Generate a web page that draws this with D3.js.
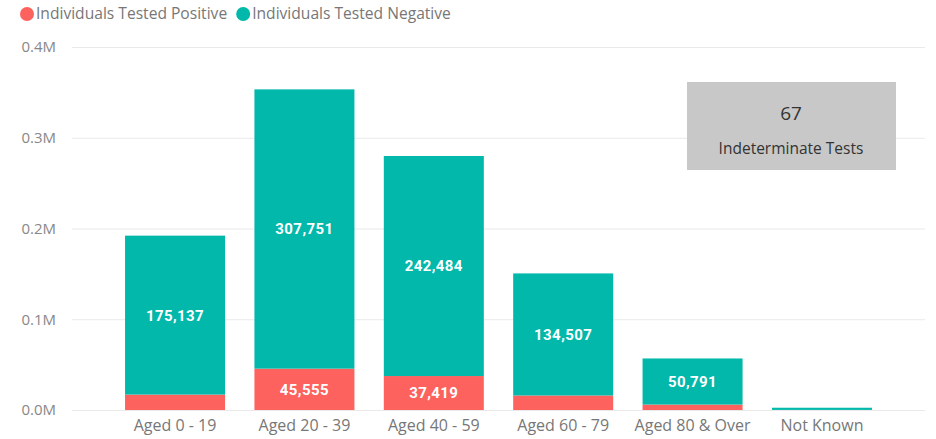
<html lang="en">
  <head>
    <meta charset="utf-8">
    <title>Tests by age group</title>
    <script src="https://d3js.org/d3.v7.min.js"></script>
    <style>
      body { margin: 0; background: #fff; }
    </style>
  </head>
  <body>
    <script type="text/javascript">
      var w = 936;
      var h = 439;

      var categories = ["Aged 0 - 19", "Aged 20 - 39", "Aged 40 - 59", "Aged 60 - 79", "Aged 80 & Over", "Not Known"];
      var positive = [17000, 45555, 37419, 16000, 6000, 100];
      var negative = [175137, 307751, 242484, 134507, 50791, 2400];
      var seriesNames = ["Individuals Tested Positive", "Individuals Tested Negative"];
      var seriesColors = ["#FD625E", "#01B8AA"];
      var yTicks = [0, 100000, 200000, 300000, 400000];
      var cardValue = "67";
      var cardLabel = "Indeterminate Tests";

      var rows = categories.map(function(c, i) {
        return {cat: c, pos: positive[i], neg: negative[i]};
      });
      var stack = d3.stack().keys(["pos", "neg"])(rows);

      var svg = d3.select("body").append("svg")
          .attr("width", w)
          .attr("height", h);

      var xScale = d3.scaleBand()
          .domain(categories)
          .range([72, 925])
          .paddingInner(0.227)
          .paddingOuter(0.41);
      var yScale = d3.scaleLinear()
          .domain([0, 400000])
          .range([410, 47]);

      // gridlines + y labels
      var yAxis = d3.axisLeft(yScale)
          .tickValues(yTicks)
          .tickSize(-(925 - 72))
          .tickPadding(16)
          .tickFormat(function(d) { return (d / 1e6).toFixed(1) + "M"; });
      var gy = svg.append("g")
          .attr("transform", "translate(72,0)")
          .call(yAxis);
      gy.select(".domain").remove();
      gy.selectAll("line").attr("stroke", "#e9e9e9");
      gy.selectAll("text")
          .attr("fill", "#888")
          .style("font-family", "'Open Sans', sans-serif")
          .style("font-size", "15px");

      // x labels
      var xAxis = d3.axisBottom(xScale).tickSize(0).tickPadding(10);
      var gx = svg.append("g")
          .attr("transform", "translate(0,410)")
          .call(xAxis);
      gx.select(".domain").remove();
      gx.selectAll("text")
          .attr("fill", "#777")
          .style("font-family", "'Open Sans', sans-serif")
          .style("font-size", "16px");

      // bars
      var layers = svg.selectAll("g.layer")
          .data(stack)
          .enter().append("g")
          .attr("class", "layer")
          .attr("fill", function(d, i) { return seriesColors[i]; });
      layers.selectAll("rect")
          .data(function(d) { return d; })
          .enter().append("rect")
          .attr("x", function(d) { return xScale(d.data.cat); })
          .attr("width", xScale.bandwidth())
          .attr("y", function(d) { return yScale(d[1]); })
          .attr("height", function(d) { return yScale(d[0]) - yScale(d[1]); });

      // data labels (only where the segment has room)
      layers.selectAll("text")
          .data(function(d) { return d.filter(function(s) { return yScale(s[0]) - yScale(s[1]) > 20; }); })
          .enter().append("text")
          .attr("x", function(d) { return xScale(d.data.cat) + xScale.bandwidth() / 2; })
          .attr("y", function(d) { return (yScale(d[0]) + yScale(d[1])) / 2; })
          .attr("dy", "0.36em")
          .attr("text-anchor", "middle")
          .attr("fill", "#fff")
          .style("font-family", "Roboto, sans-serif")
          .style("font-weight", "700")
          .style("font-size", "15px")
          .style("letter-spacing", "0.4px")
          .text(function(d) { return d3.format(",")(d[1] - d[0]); });

      // legend
      var legend = svg.append("g");
      var lx = 27;
      seriesNames.forEach(function(name, i) {
        legend.append("circle")
            .attr("cx", lx).attr("cy", 14).attr("r", 7)
            .attr("fill", seriesColors[i]);
        var t = legend.append("text")
            .attr("x", lx + 9).attr("y", 14).attr("dy", "0.35em")
            .attr("fill", "#777")
            .style("font-family", "'Open Sans', sans-serif")
            .style("font-size", "15.6px")
            .text(name);
        lx = lx + 9 + t.node().getComputedTextLength() + 16;
      });

      // card
      var card = svg.append("g");
      card.append("rect")
          .attr("x", 687).attr("y", 82).attr("width", 209).attr("height", 88)
          .attr("fill", "#c8c8c8");
      card.append("text")
          .attr("x", 791).attr("y", 113).attr("dy", "0.35em")
          .attr("text-anchor", "middle")
          .attr("fill", "#333")
          .style("font-family", "'Open Sans', sans-serif")
          .style("font-size", "19px")
          .text(cardValue);
      card.append("text")
          .attr("x", 791).attr("y", 149).attr("dy", "0.35em")
          .attr("text-anchor", "middle")
          .attr("fill", "#333")
          .style("font-family", "'Open Sans', sans-serif")
          .style("font-size", "15.5px")
          .text(cardLabel);
    </script>
  </body>
</html>
